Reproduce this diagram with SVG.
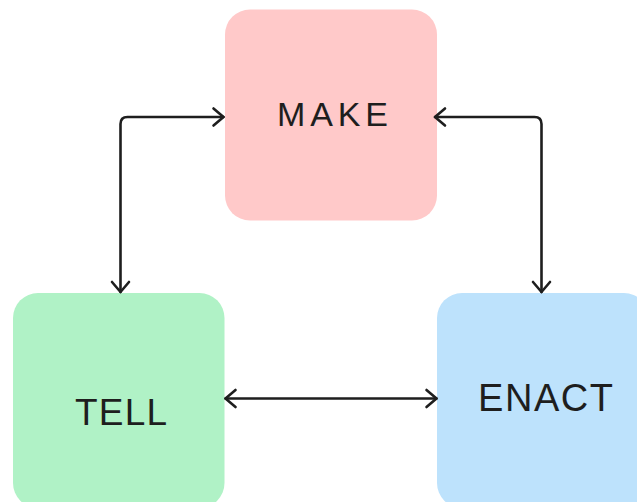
<svg xmlns="http://www.w3.org/2000/svg" width="637" height="502" viewBox="0 0 637 502">
  <defs>
    <style>
      .lbl { font-family: "Liberation Sans", Arial, sans-serif; fill: #1e1e1e; }
      .conn { fill: none; stroke: #1e1e1e; stroke-width: 2.6; stroke-linecap: round; stroke-linejoin: round; }
    </style>
    <marker id="arr" viewBox="-13 -11 15 22" markerWidth="15" markerHeight="22" refX="0" refY="0" orient="auto-start-reverse" markerUnits="userSpaceOnUse">
      <path d="M-10,-8.5 L0,0 L-10,8.5" fill="none" stroke="#1e1e1e" stroke-width="2.6" stroke-linecap="round" stroke-linejoin="round"/>
    </marker>
  </defs>
  <rect width="637" height="502" fill="#ffffff"/>

  <g id="make">
    <rect x="225" y="9.5" width="212" height="211" rx="25" fill="#ffc9c9"/>
    <text class="lbl" x="277" y="126" font-size="34" textLength="111" lengthAdjust="spacing">MAKE</text>
  </g>
  <g id="tell">
    <rect x="13" y="293" width="211.5" height="215" rx="25" fill="#b0f2c6"/>
    <text class="lbl" x="75" y="425" font-size="37" textLength="92" lengthAdjust="spacing">TELL</text>
  </g>
  <g id="enact">
    <rect x="437" y="293" width="212" height="215" rx="25" fill="#bde2fc"/>
    <text class="lbl" x="478" y="411" font-size="38" textLength="135" lengthAdjust="spacing">ENACT</text>
  </g>

  <g id="connectors">
    <path class="conn" d="M120.5,292 V124 Q120.5,117 127.5,117 H223.5" marker-start="url(#arr)" marker-end="url(#arr)"/>
    <path class="conn" d="M435,117 H534.5 Q541.5,117 541.5,124 V292" marker-start="url(#arr)" marker-end="url(#arr)"/>
    <path class="conn" d="M225.5,398.5 H436.5" marker-start="url(#arr)" marker-end="url(#arr)"/>
  </g>
</svg>
